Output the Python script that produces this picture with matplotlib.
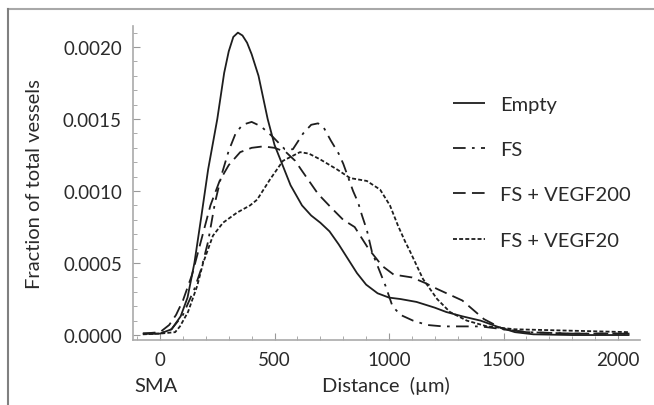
import matplotlib
matplotlib.use("Agg")
import matplotlib.pyplot as plt
from matplotlib.lines import Line2D
from matplotlib.ticker import MultipleLocator, FormatStrFormatter

plt.rcParams['font.family'] = ['Lato', 'DejaVu Sans']

# ---- data ----
empty_x = [-75, 0, 50, 90, 120, 150, 180, 210, 250, 280, 300, 320, 340, 360, 380, 400, 430,
           470, 500, 530, 570, 620, 660, 700, 740, 780, 820, 860, 900, 950, 1000, 1050,
           1120, 1200, 1250, 1320, 1400, 1470, 1550, 1630, 1800, 2050]
empty_y = [0.00001, 0.00001, 0.00004, 0.00013, 0.00026, 0.0005, 0.00082, 0.00115, 0.0015,
           0.00182, 0.00197, 0.00207, 0.0021, 0.00208, 0.00203, 0.00195, 0.0018, 0.0015,
           0.00132, 0.0012, 0.00104, 0.0009, 0.00083, 0.00078, 0.00072, 0.00063, 0.00053,
           0.00043, 0.00035, 0.00029, 0.00026, 0.00025, 0.00023, 0.00019, 0.00016, 0.00013,
           0.0001, 0.00006, 0.00002, 0.000005, 0.0, 0.0]

fs_x = [-75, 0, 50, 100, 150, 180, 210, 240, 270, 300, 330, 360, 400, 440, 490, 545, 580,
        625, 660, 690, 715, 746, 780, 800, 843, 865, 882, 903, 925, 960, 985, 1015, 1050,
        1105, 1166, 1236, 1300, 1400, 1500, 1600, 1800, 2050]
fs_y = [0.00001, 0.00001, 0.00004, 0.00014, 0.00032, 0.00046, 0.00065, 0.00092, 0.00112,
        0.00128, 0.0014, 0.00146, 0.00148, 0.00145, 0.00138, 0.00129, 0.00129, 0.0014,
        0.00146, 0.00147, 0.00144, 0.00135, 0.00126, 0.00119, 0.001, 0.00092, 0.00083,
        0.00073, 0.00058, 0.00044, 0.00034, 0.0002, 0.00014, 0.0001, 0.00007, 0.00006,
        0.00006, 0.00006, 0.00004, 0.00002, 0.00001, 0.00001]

v200_x = [-75, 0, 40, 70, 100, 140, 180, 220, 260, 300, 350, 400, 450, 500, 550, 590, 620,
          690, 750, 800, 850, 910, 970, 1020, 1100, 1160, 1210, 1320, 1415, 1500, 1600,
          1800, 2050]
v200_y = [0.00001, 0.00002, 0.00007, 0.00014, 0.00024, 0.00042, 0.00066, 0.0009, 0.00107,
          0.00118, 0.00127, 0.0013, 0.00131, 0.0013, 0.00127, 0.00121, 0.00114, 0.00098,
          0.00088, 0.0008, 0.00075, 0.0006, 0.00048, 0.00042, 0.0004, 0.00036, 0.00032,
          0.00024, 0.00011, 0.00004, 0.00002, 0.00001, 0.00001]

v20_x = [-75, 0, 66, 87, 122, 162, 188, 231, 275, 336, 393, 424, 480, 537, 611, 650, 699,
         773, 830, 903, 961, 1004, 1039, 1070, 1092, 1148, 1210, 1266, 1340, 1428, 1550,
         1800, 2050]
v20_y = [0.000005, 0.00001, 0.00002, 0.00006, 0.00016, 0.00034, 0.0005, 0.00069, 0.00078,
         0.00085, 0.0009, 0.00094, 0.00108, 0.00121, 0.00127, 0.00126, 0.00122, 0.00115,
         0.00109, 0.00107, 0.00101, 0.0009, 0.00076, 0.00065, 0.00058, 0.00039, 0.00025,
         0.00016, 0.0001, 0.00006, 0.00004, 0.00003, 0.00002]

series = [
    ("Empty", empty_x, empty_y, (0, ())),
    ("FS", fs_x, fs_y, (0, (7, 3.5, 1.5, 3.5))),
    ("FS + VEGF200", v200_x, v200_y, (0, (7, 3.5))),
    ("FS + VEGF20", v20_x, v20_y, (0, (2.2, 1.2))),
]

xticks = [0, 500, 1000, 1500, 2000]
yticks = [0.0, 0.0005, 0.0010, 0.0015, 0.0020]

fig = plt.figure(figsize=(6.54, 4.06), dpi=100)
ax = fig.add_axes([0.2034, 0.160, 0.7752, 0.7735])

line_col = '#1e1e1e'
handles = []
for name, xs, ys, ls in series:
    h, = ax.plot(xs, ys, color=line_col, lw=1.3, linestyle=ls, label=name)
    handles.append(h)

ax.set_xlim(-118, 2096)
ax.set_ylim(-0.0000347, 0.002146)
ax.set_xticks(xticks)
ax.set_yticks(yticks)
ax.xaxis.set_minor_locator(MultipleLocator(100))
ax.yaxis.set_minor_locator(MultipleLocator(0.0001))
ax.yaxis.set_major_formatter(FormatStrFormatter('%.4f'))

for s in ['top', 'right']:
    ax.spines[s].set_visible(False)
for s in ['left', 'bottom']:
    ax.spines[s].set_color('#aaaaaa')
    ax.spines[s].set_linewidth(1.2)

ax.tick_params(which='major', direction='in', length=5, width=0.8, color='#999999',
               labelsize=13.5, labelcolor='#2a2a2a', pad=8)
ax.tick_params(which='minor', direction='in', length=3, width=0.7, color='#aaaaaa')

ax.set_ylabel("Fraction of total vessels", fontsize=14.5, color='#2a2a2a', labelpad=14)
fig.text(0.59, 0.035, "Distance  (µm)", fontsize=14.5, color='#2a2a2a', ha='center')
fig.text(0.206, 0.035, "SMA", fontsize=14.5, color='#2a2a2a', ha='left')

leg = ax.legend(handles=handles, loc='upper left', bbox_to_anchor=(0.631, 0.778),
                frameon=False, fontsize=14.5, handlelength=1.6, handletextpad=0.75,
                labelspacing=1.4, borderpad=0, borderaxespad=0, labelcolor='#2a2a2a')

# figure border (top and left)
fig.add_artist(Line2D([8/654, 1.0], [1 - 10/406, 1 - 10/406], transform=fig.transFigure,
                      color='#a8a8a8', lw=1.5))
fig.add_artist(Line2D([8/654, 8/654], [0, 1 - 10/406], transform=fig.transFigure,
                      color='#808080', lw=1.5))

fig.savefig("out.png", dpi=100)
